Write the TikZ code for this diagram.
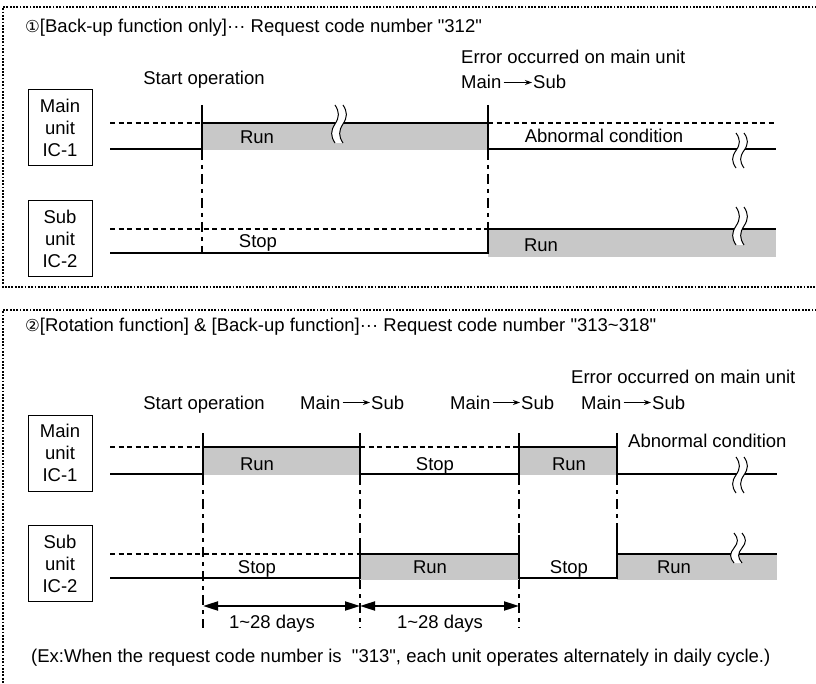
\documentclass[tikz,border=0pt]{standalone}
\usepackage{fontspec}
\setmainfont{Liberation Sans}
\newfontfamily\plainq{Liberation Sans}
\newfontfamily\djv{DejaVu Sans}
\usetikzlibrary{arrows.meta,calc}
\definecolor{runfill}{RGB}{200,200,200}
\newcommand\fs{\fontsize{18.5}{22}\selectfont}
\newcommand\dq{{\plainq\symbol{34}}}
\newcommand\brkmark[3]{%
 \pgfmathsetmacro\bh{#3-#2}%
 \begin{scope}[shift={(#1,#2)}]
 \fill[white] (-4,0) .. controls (0.5,0.18*\bh) and (0.5,0.32*\bh) .. (-4,0.5*\bh) .. controls (-8.5,0.68*\bh) and (-8.5,0.82*\bh) .. (-4,\bh) -- (4,\bh) .. controls (-0.5,0.82*\bh) and (-0.5,0.68*\bh) .. (4,0.5*\bh) .. controls (8.5,0.32*\bh) and (8.5,0.18*\bh) .. (4,0) -- cycle;
 \draw[line width=1pt] (-4,0) .. controls (0.5,0.18*\bh) and (0.5,0.32*\bh) .. (-4,0.5*\bh) .. controls (-8.5,0.68*\bh) and (-8.5,0.82*\bh) .. (-4,\bh);
 \draw[line width=1pt] (4,0) .. controls (8.5,0.18*\bh) and (8.5,0.32*\bh) .. (4,0.5*\bh) .. controls (-0.5,0.68*\bh) and (-0.5,0.82*\bh) .. (4,\bh);
 \end{scope}}
\begin{document}
\begin{tikzpicture}[x=1pt,y=-1pt,
 every node/.style={font=\fs, inner sep=0pt},
 trace/.style={line width=2pt},
 idle/.style={line width=2pt, dash pattern=on 5pt off 3.5pt},
 guide/.style={line width=2pt, dash pattern=on 10pt off 5pt on 4pt off 5pt},
 frame/.style={line width=1.5pt, dash pattern=on 1.8pt off 1.5pt},
 unitbox/.style={draw, line width=1pt, minimum width=64pt, minimum height=76pt, align=center},
 swarrow/.style={-{Stealth[length=7pt,width=5pt]}, line width=1pt},
 dayarrow/.style={{Triangle[length=15pt,width=9pt]}-{Triangle[length=15pt,width=9pt]}, line width=2pt}]
\useasboundingbox (0,0) rectangle (816,684);
% frames
\draw[frame] (820,7) -- (3,7) -- (3,287) -- (820,287);
\draw[frame] (820,310) -- (3,310) -- (3,690);

% ================= Section 1 =================
\node[anchor=base west] (t1) at (25,33) {{\djv\fontsize{16.5}{18}\selectfont ①}[Back-up function only]···\ Request code number \dq312\dq};
\node[anchor=base] (so1) at (204,85) {Start operation};
\node[anchor=base west] (err1) at (461,64) {Error occurred on main unit};
\node[anchor=base west] (m1) at (461,89) {Main};
\node[anchor=base west] (s1) at (533,89) {Sub};
\draw[swarrow] ($(m1.base east)+(2,-6.5)$) -- ($(s1.base west)+(-1,-6.5)$);

\node[unitbox] (mu1) at (60,128) {Main\\unit\\IC-1};
\node[unitbox] (su1) at (60,238.5) {Sub\\unit\\IC-2};

% main unit trace
\fill[runfill] (202,123) rectangle (488,150);
\draw[idle] (110,123) -- (202,123);
\draw[trace] (110,149) -- (202,149);
\draw[trace] (202,105) -- (202,150);
\draw[trace] (202,123) -- (488,123);
\draw[trace] (488,105) -- (488,150);
\draw[idle] (488,123) -- (776,123);
\draw[trace] (488,149) -- (776,149);
\draw[guide] (202,150) -- (202,253);
\draw[guide] (488,150) -- (488,229);
% sub unit trace
\fill[runfill] (488,229) rectangle (776,257);
\draw[idle] (110,229) -- (488,229);
\draw[trace] (110,253) -- (488,253);
\draw[trace] (488,229) -- (776,229);
\draw[trace] (488,229) -- (488,254);
\brkmark{339}{105}{143}
\brkmark{740}{133}{168}
\brkmark{740}{207}{245}

\node[anchor=base] (r11) at (257,144) {Run};
\node[anchor=base] (a1) at (604,143) {Abnormal condition};
\node[anchor=base] (st12) at (258,248) {Stop};
\node[anchor=base] (r12) at (541,252) {Run};

% ================= Section 2 =================
\node[anchor=base west] (t2) at (25,331) {{\djv\fontsize{16.5}{18}\selectfont ②}[Rotation function] \& [Back-up function]···\ Request code number \dq313\textasciitilde318\dq};
\node[anchor=base west] (err2) at (571,383) {Error occurred on main unit};
\node[anchor=base] (so2) at (204,409) {Start operation};
\node[anchor=base west] (m2a) at (300,409) {Main};
\node[anchor=base west] (s2a) at (371,409) {Sub};
\node[anchor=base west] (m2b) at (450,409) {Main};
\node[anchor=base west] (s2b) at (521,409) {Sub};
\node[anchor=base west] (m2c) at (581,409) {Main};
\node[anchor=base west] (s2c) at (652,409) {Sub};
\draw[swarrow] ($(m2a.base east)+(2,-6.5)$) -- ($(s2a.base west)+(-1,-6.5)$);
\draw[swarrow] ($(m2b.base east)+(2,-6.5)$) -- ($(s2b.base west)+(-1,-6.5)$);
\draw[swarrow] ($(m2c.base east)+(2,-6.5)$) -- ($(s2c.base west)+(-1,-6.5)$);

\node[unitbox] (mu2) at (60,453) {Main\\unit\\IC-1};
\node[unitbox] (su2) at (60,563.5) {Sub\\unit\\IC-2};

% main unit trace
\fill[runfill] (203,447) rectangle (360,475);
\fill[runfill] (519,447) rectangle (617,475);
\draw[idle] (110,447) -- (203,447);
\draw[trace] (110,474) -- (203,474);
\draw[trace] (203,447) -- (360,447);
\draw[idle] (360,447) -- (519,447);
\draw[trace] (360,474) -- (519,474);
\draw[trace] (519,447) -- (617,447);
\draw[trace] (617,474) -- (777,474);
\foreach \x in {203,360,519,617} \draw[trace] (\x,433) -- (\x,475);
\draw[guide] (203,475) -- (203,628);
\draw[guide] (360,475) -- (360,542);
\draw[guide] (360,579) -- (360,628);
\draw[guide] (519,475) -- (519,535);
\draw[guide] (519,579) -- (519,628);
\draw[guide] (617,475) -- (617,533);
% sub unit trace
\fill[runfill] (360,554) rectangle (519,580);
\fill[runfill] (617,554) rectangle (777,580);
\draw[idle] (110,554) -- (360,554);
\draw[trace] (110,578) -- (360,578);
\draw[trace] (360,554) -- (519,554);
\draw[trace] (519,578) -- (617,578);
\draw[trace] (617,554) -- (777,554);
\draw[trace] (360,542) -- (360,579);
\draw[trace] (519,535) -- (519,579);
\draw[trace] (617,533) -- (617,579);
\brkmark{740}{457}{493}
\brkmark{738}{533}{563}

\node[anchor=base] (r21) at (257,470) {Run};
\node[anchor=base] (st21) at (435,470) {Stop};
\node[anchor=base] (r21b) at (569,470) {Run};
\node[anchor=base west] (a2) at (628,447) {Abnormal condition};
\node[anchor=base] (st22) at (257,573) {Stop};
\node[anchor=base] (r22) at (430,573) {Run};
\node[anchor=base] (st22b) at (569,573) {Stop};
\node[anchor=base] (r22b) at (674,573) {Run};

% day arrows
\coordinate (d0) at (203,606);
\coordinate (d1) at (360,606);
\coordinate (d2) at (519,606);
\draw[dayarrow] (d0) -- (d1);
\draw[dayarrow] (d1) -- (d2);
\node[anchor=base] (dy1) at (272,628) {1\textasciitilde28 days};
\node[anchor=base] (dy2) at (440,628) {1\textasciitilde28 days};

\node[anchor=base west] (fn) at (31,662) {(Ex:When the request code number is\ \ \dq313\dq, each unit operates alternately in daily cycle.)};
\end{tikzpicture}
\end{document}
